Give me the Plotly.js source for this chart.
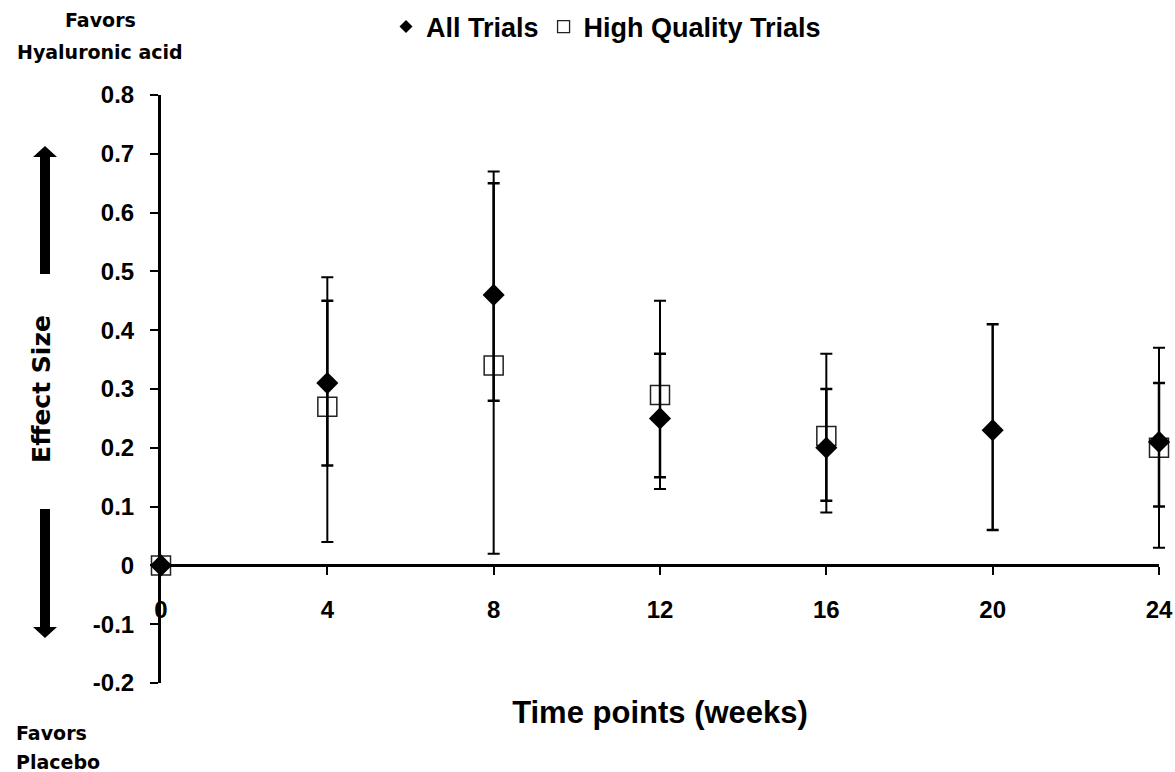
<!DOCTYPE html>
<html>
<head>
<meta charset="utf-8">
<script src="https://cdn.plot.ly/plotly-3.0.1.min.js"></script>
<style>
html,body{margin:0;padding:0;background:#fff;}
#chart{width:1175px;height:772px;}
</style>
</head>
<body>
<div id="chart"></div>
<script>
// ---- Data ----
const weeksAll = [0, 4, 8, 12, 16, 20, 24];
const effectAll = [0, 0.31, 0.46, 0.25, 0.20, 0.23, 0.21];
const lowerAll = [0, 0.17, 0.28, 0.15, 0.11, 0.06, 0.10];
const upperAll = [0, 0.45, 0.65, 0.36, 0.30, 0.41, 0.31];

const weeksHQ = [0, 4, 8, 12, 16, 24];
const effectHQ = [0, 0.27, 0.34, 0.29, 0.22, 0.20];
const lowerHQ = [0, 0.04, 0.02, 0.13, 0.09, 0.03];
const upperHQ = [0, 0.49, 0.67, 0.45, 0.36, 0.37];

const xTickVals = [0, 4, 8, 12, 16, 20, 24];
const xTickText = ['0', '4', '8', '12', '16', '20', '24'];
const yTickVals = [-0.2, -0.1, 0, 0.1, 0.2, 0.3, 0.4, 0.5, 0.6, 0.7, 0.8];
const yTickText = ['-0.2', '-0.1', '0', '0.1', '0.2', '0.3', '0.4', '0.5', '0.6', '0.7', '0.8'];

const seriesNames = ['All Trials', 'High Quality Trials'];

// ---- Layout helpers (pixel -> paper / container) ----
const W = 1175, H = 772;
const PL = 161, PR = 1159, PT = 95, PB = 683;
const px2x = p => (p - PL) / (PR - PL);
const px2y = p => (PB - p) / (PB - PT);
const cx = p => p / W;
const cy = p => 1 - p / H;
const pathFrom = pts => 'M ' + pts.map(p => px2x(p[0]).toFixed(5) + ',' + px2y(p[1]).toFixed(5)).join(' L ') + ' Z';

const upArrow = pathFrom([[40,274],[40,157],[33,157],[45,146],[57,157],[50,157],[50,274]]);
const downArrow = pathFrom([[40,509],[40,627],[33,627],[45,638],[57,627],[50,627],[50,509]]);

const plus = (u, y) => u.map((v, i) => v - y[i]);
const minus = (l, y) => l.map((v, i) => y[i] - v);

const tickFont = {family: 'Liberation Sans, Arial, sans-serif', size: 24, weight: 'bold', color: '#000'};
const wideFont = (s) => ({family: 'DejaVu Sans, sans-serif', size: s, weight: 'bold', color: '#000'});

const traces = [
  {
    x: weeksHQ, y: effectHQ, type: 'scatter', mode: 'markers', name: seriesNames[1],
    showlegend: false, cliponaxis: false,
    marker: {symbol: 'square-open', size: 19, color: '#222', line: {width: 1.5, color: '#222'}},
    error_y: {type: 'data', symmetric: false, array: plus(upperHQ, effectHQ), arrayminus: minus(lowerHQ, effectHQ),
              color: '#000', thickness: 2, width: 6}
  },
  {
    x: weeksAll, y: effectAll, type: 'scatter', mode: 'markers', name: seriesNames[0],
    showlegend: false, cliponaxis: false,
    marker: {symbol: 'diamond', size: 17, color: '#000'},
    error_y: {type: 'data', symmetric: false, array: plus(upperAll, effectAll), arrayminus: minus(lowerAll, effectAll),
              color: '#000', thickness: 2.5, width: 6}
  },
  // legend entries
  {x: [null], y: [null], type: 'scatter', mode: 'markers', name: seriesNames[0], showlegend: true,
   marker: {symbol: 'diamond', size: 10, color: '#000'}},
  {x: [null], y: [null], type: 'scatter', mode: 'markers', name: seriesNames[1], showlegend: true,
   marker: {symbol: 'square-open', size: 12, color: '#222', line: {width: 1.3, color: '#222'}}}
];

const layout = {
  width: W, height: H,
  margin: {l: PL, r: W - PR, t: PT, b: H - PB, pad: 0, autoexpand: false},
  paper_bgcolor: '#fff', plot_bgcolor: '#fff',
  showlegend: true,
  legend: {orientation: 'h', xref: 'container', yref: 'container', x: cx(386), xanchor: 'left', y: cy(27), yanchor: 'middle',
           font: {family: 'Liberation Sans, Arial, sans-serif', size: 27, weight: 'bold', color: '#000'},
           bgcolor: 'rgba(0,0,0,0)', itemwidth: 30, tracegroupgap: 0},
  xaxis: {
    range: [0, 24], anchor: 'free', position: 0.2,
    tickmode: 'array', tickvals: xTickVals, ticktext: xTickText,
    showline: true, linewidth: 3, linecolor: '#000', mirror: false,
    ticks: 'outside', ticklen: 8, tickwidth: 2, tickcolor: '#000',
    showgrid: false, zeroline: false, tickfont: tickFont, ticklabelstandoff: 14,
    title: {text: 'Time points (weeks)', font: {family: 'Liberation Sans, Arial, sans-serif', size: 31, weight: 'bold', color: '#000'}, standoff: 79},
    fixedrange: true
  },
  yaxis: {
    range: [-0.2, 0.8],
    tickmode: 'array', tickvals: yTickVals, ticktext: yTickText,
    showline: true, linewidth: 3, linecolor: '#000',
    ticks: 'outside', ticklen: 8, tickwidth: 2, tickcolor: '#000',
    showgrid: false, zeroline: false, tickfont: tickFont, ticklabelstandoff: 11,
    title: {text: 'Effect Size', font: wideFont(25), standoff: 36},
    fixedrange: true
  },
  shapes: [
    {type: 'path', xref: 'paper', yref: 'paper', path: upArrow, fillcolor: '#000', line: {width: 0}},
    {type: 'path', xref: 'paper', yref: 'paper', path: downArrow, fillcolor: '#000', line: {width: 0}}
  ],
  annotations: [
    {text: 'Favors', xref: 'paper', yref: 'paper', x: px2x(100), y: px2y(20), xanchor: 'center', yanchor: 'middle', showarrow: false, font: wideFont(19)},
    {text: 'Hyaluronic acid', xref: 'paper', yref: 'paper', x: px2x(100), y: px2y(52), xanchor: 'center', yanchor: 'middle', showarrow: false, font: wideFont(19)},
    {text: 'Favors', xref: 'paper', yref: 'paper', x: px2x(14), y: px2y(733), xanchor: 'left', yanchor: 'middle', showarrow: false, font: wideFont(19)},
    {text: 'Placebo', xref: 'paper', yref: 'paper', x: px2x(14), y: px2y(762), xanchor: 'left', yanchor: 'middle', showarrow: false, font: wideFont(19)}
  ]
};

const gd = document.getElementById('chart');
Plotly.newPlot(gd, traces, layout, {displayModeBar: false, staticPlot: true}).then(() => {
  // let the error bars at the last time point show their full caps, as in the original
  gd.querySelectorAll('.cartesianlayer [clip-path]').forEach(el => el.removeAttribute('clip-path'));
});
</script>
</body>
</html>
